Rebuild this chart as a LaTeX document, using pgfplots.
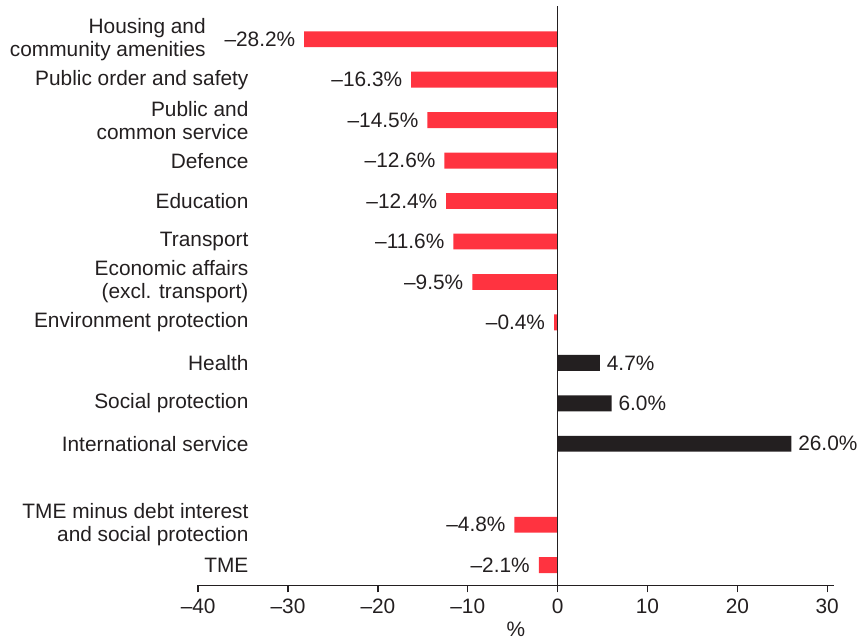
\documentclass[border={5pt 0pt 0pt 2.5pt}]{standalone}
\usepackage{pgfplots}
\pgfplotsset{compat=1.18}
\usepackage{fontspec}
\setmainfont{Liberation Sans}
\definecolor{barred}{HTML}{FF3340}
\definecolor{barblack}{HTML}{231F20}
\definecolor{txt}{HTML}{231F20}
\newcommand{\lf}{\fontsize{10.5}{11.5}\selectfont}
\begin{document}
\begin{tikzpicture}
\begin{axis}[
  width=320pt, height=292pt, scale only axis,
  xmin=-40, xmax=30.7, ymin=-0.5, ymax=13.83,
  axis x line*=bottom, axis y line*=left,
  y axis line style={draw=none},
  x axis line style={draw=txt, line width=0.7pt, -},
  xtick={-40,-30,...,30},
  xticklabels={\textendash40,\textendash30,\textendash20,\textendash10,0,10,20,30},
  tick align=outside, major tick length=3.5pt,
  xtick style={draw=txt, line width=0.7pt},
  ytick={0,1,3,4,5,6,7,8,9,10,11,12,13},
  yticklabels={TME, {TME minus debt interest\\and social protection}, International service, Social protection, Health, Environment protection, {Economic affairs\\(excl. transport)}, Transport, Education, Defence, {Public and\\common service}, Public order and safety, {Housing and\hspace*{21.5pt}\\community amenities\hspace*{21.5pt}}},
  ytick style={draw=none},
  yticklabel style={align=right, xshift=29pt, inner sep=0pt, font=\lf, text=txt},
  xticklabel style={font=\lf, text=txt},
  xlabel={\%}, xlabel style={font=\lf, text=txt, yshift=3pt},
  xbar, bar width=8pt,
  clip=false,
  point meta=explicit symbolic,
]
\addplot[xbar, bar shift=0pt, fill=barred, draw=none, nodes near coords,
  every node near coord/.append style={anchor=east, xshift=-1pt, font=\lf, text=txt}] coordinates {
  (-28.2,13) [\textendash28.2\%]
  (-16.3,12) [\textendash16.3\%]
  (-14.5,11) [\textendash14.5\%]
  (-12.6,10) [\textendash12.6\%]
  (-12.4,9) [\textendash12.4\%]
  (-11.6,8) [\textendash11.6\%]
  (-9.5,7) [\textendash9.5\%]
  (-0.4,6) [\textendash0.4\%]
  (-4.8,1) [\textendash4.8\%]
  (-2.1,0) [\textendash2.1\%]
};
\addplot[xbar, bar shift=0pt, fill=barblack, draw=none, nodes near coords,
  every node near coord/.append style={anchor=west, font=\lf, text=txt}] coordinates {
  (4.7,5) [4.7\%]
  (6.0,4) [6.0\%]
  (26.0,3) [26.0\%]
};
\draw[txt, line width=0.7pt] (axis cs:0,-0.5) -- (axis cs:0,13.83);
\end{axis}
\end{tikzpicture}
\end{document}
